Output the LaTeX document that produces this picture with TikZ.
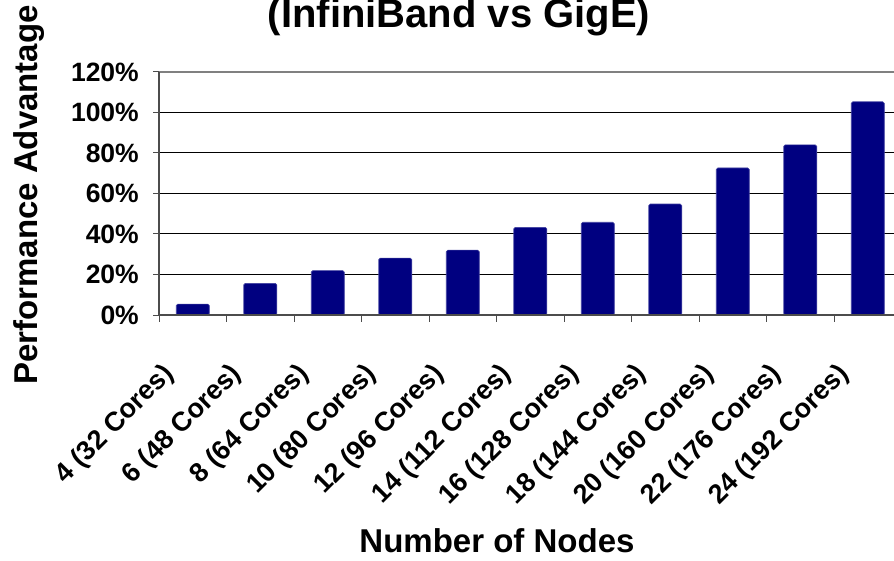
\documentclass[tikz,border=0pt]{standalone}
\usepackage{fontspec}
\setmainfont{Liberation Sans}
\definecolor{barblue}{HTML}{000080}
\tikzset{ticklabel/.style = {font=\bfseries\fontsize{26.5}{28}\selectfont, inner sep=0pt}}
\tikzset{catlabel/.style = {font=\bfseries\fontsize{27}{29}\selectfont, inner sep=0pt}}
\tikzset{axistitle/.style = {font=\bfseries\fontsize{33}{36}\selectfont, inner sep=0pt}}
\tikzset{databar/.style = {fill=barblue, draw=barblue!75, line width=0.6pt, rounded corners=1.5pt}}
\tikzset{gridline/.style = {black, line width=1pt}}

\begin{document}
\begin{tikzpicture}[x=1pt, y=-1pt]
\useasboundingbox (0,0) rectangle (894,561);
% grid
\foreach \p in {20,40,...,100}
  \draw [gridline] (159,{315-2.025*\p}) -- (894,{315-2.025*\p});
\draw [gray, line width=2pt] (159,72) -- (894,72);
% bars
\foreach \v [count=\i] in {5.4,15.6,21.9,28.1,32,43.3,45.8,54.8,72.6,84,105.3}
  \draw [databar] ({159+(\i-0.5)*67.5-16.5},315) rectangle ++(33,{-2.025*\v});
% axes and ticks
\draw [black!70, line width=1.5pt] (159,72) -- (159,315) -- (894,315);
\foreach \p in {0,20,...,120} {
  \draw [black!70, line width=1pt] (153,{315-2.025*\p}) -- (159,{315-2.025*\p});
  \node [ticklabel, anchor=east] (y\p) at (139,{315-2.025*\p}) {\p\%};
}
\foreach \i in {0,...,10}
  \draw [black!70, line width=1pt] ({159+\i*67.5},315) -- ({159+\i*67.5},322);
% category labels
\foreach \n/\c [count=\i] in {4/32,6/48,8/64,10/80,12/96,14/112,16/128,18/144,20/160,22/176,24/192}
  \node [catlabel, rotate=45, anchor=east] (cat\i) at ({159+(\i-0.5)*67.5-23},370) {\n{} (\c{} Cores)};
% titles
\node [font=\bfseries\fontsize{40}{44}\selectfont, inner sep=0pt, anchor=base] (title) at (459,28) {(InfiniBand vs GigE)};
\node [axistitle, rotate=90, anchor=base] (ytitle) at (37,195) {Performance Advantage};
\node [axistitle, anchor=base] (xtitle) at (497,552) {Number of Nodes};
\end{tikzpicture}
\end{document}
